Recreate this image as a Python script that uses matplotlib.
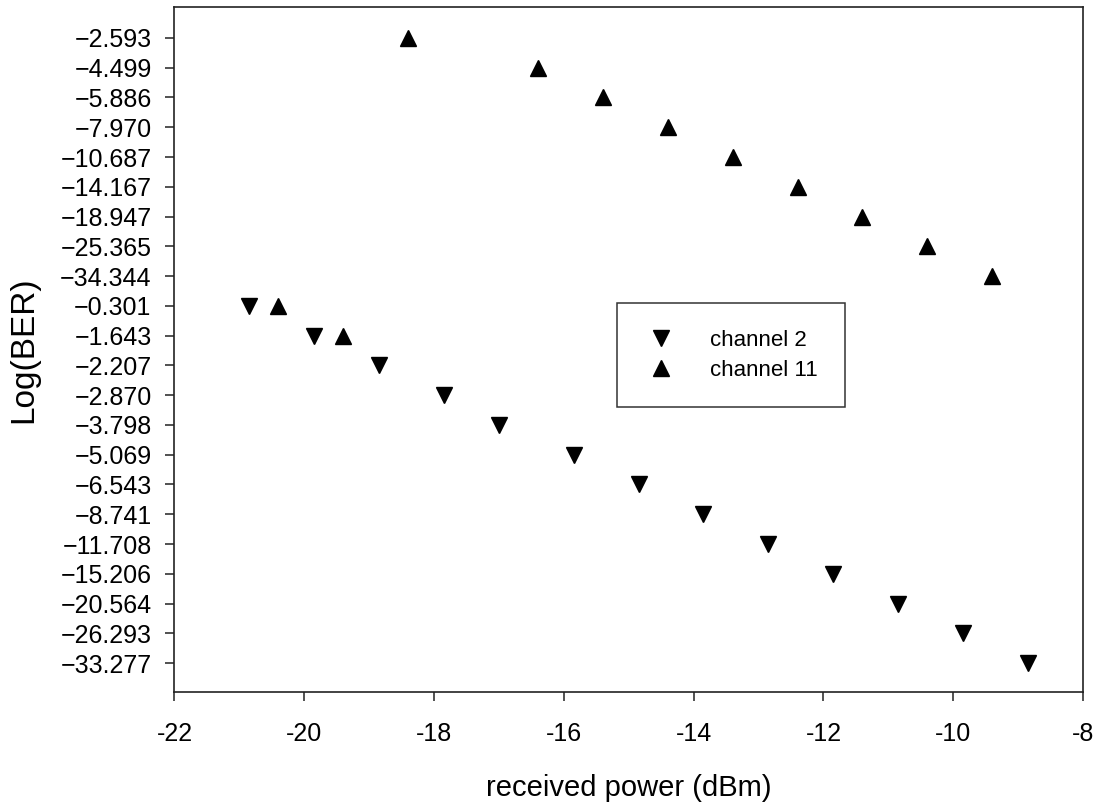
import numpy as np
import matplotlib
matplotlib.use('Agg')
from matplotlib import pyplot as plt

plt.rcParams['font.family'] = ['Liberation Sans', 'DejaVu Sans']
plt.rcParams['axes.unicode_minus'] = False

# y axis is a list of category rows, top to bottom
y_labels = [-2.593, -4.499, -5.886, -7.970, -10.687, -14.167, -18.947, -25.365, -34.344,
            -0.301, -1.643, -2.207, -2.870, -3.798, -5.069, -6.543, -8.741, -11.708,
            -15.206, -20.564, -26.293, -33.277]

ch2_power = [-20.85, -19.85, -18.85, -17.85, -17.0, -15.85, -14.85, -13.85, -12.85,
             -11.85, -10.85, -9.85, -8.85]
ch2_logber = [-0.301, -1.643, -2.207, -2.870, -3.798, -5.069, -6.543, -8.741, -11.708,
              -15.206, -20.564, -26.293, -33.277]

ch11_power = [-20.4, -19.4, -18.4, -16.4, -15.4, -14.4, -13.4, -12.4, -11.4, -10.4, -9.4]
ch11_logber = [-0.301, -1.643, -2.593, -4.499, -5.886, -7.970, -10.687, -14.167, -18.947,
               -25.365, -34.344]

x_ticks = [-22, -20, -18, -16, -14, -12, -10, -8]

ch2_row = [y_labels.index(v) for v in ch2_logber]
ch11_row = [y_labels.index(v) for v in ch11_logber]

fig = plt.figure(figsize=(10.94, 8.05), dpi=100)
ax = fig.add_axes([0.1595, 0.1404, 0.8305, 0.8509])

ax.plot(ch2_power, ch2_row, linestyle='none', marker='v', markersize=12,
        color='black', label='channel 2')
ax.plot(ch11_power, ch11_row, linestyle='none', marker='^', markersize=12,
        color='black', label='channel 11')

ax.set_xlim(-22, -8)
ax.set_ylim(21.97, -1.04)
ax.set_xticks(x_ticks)
ax.set_xticklabels([str(t) for t in x_ticks], fontsize=18)
ax.set_yticks(np.arange(len(y_labels)))
ax.set_yticklabels([('%.3f' % v).replace('-', '\u2212') for v in y_labels], fontsize=18)
ax.tick_params(direction='out', length=6.5, width=1.1, pad=10, colors='#222222',
               labelcolor='black')
ax.tick_params(axis='x', pad=15)

for s in ax.spines.values():
    s.set_linewidth(1.2)
    s.set_color('#222222')

ax.set_xlabel('received power (dBm)', fontsize=21, labelpad=20)
ax.set_ylabel('Log(BER)', fontsize=24)
ax.yaxis.set_label_coords(-0.149, 0.5)

leg = ax.legend(loc='upper left', bbox_to_anchor=(617 / 1094, 1 - 303 / 805),
                bbox_transform=fig.transFigure, fontsize=16, frameon=True,
                fancybox=False, borderpad=1.2, handlelength=1.6, handletextpad=1.4,
                labelspacing=0.4, borderaxespad=0)
leg.get_frame().set_edgecolor('black')
leg.get_frame().set_linewidth(1.1)

plt.savefig('out.png', dpi=100)
